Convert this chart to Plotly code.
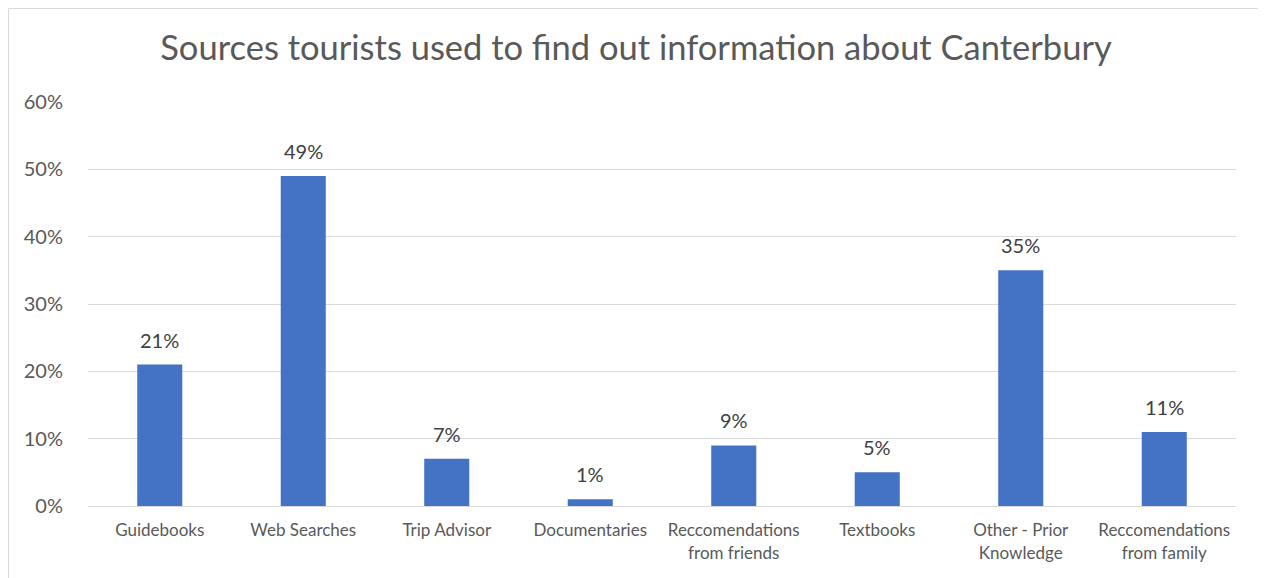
import plotly.graph_objects as go

categories = ["Guidebooks", "Web Searches", "Trip Advisor", "Documentaries",
              "Reccomendations<br>from friends", "Textbooks",
              "Other - Prior<br>Knowledge", "Reccomendations<br>from family"]
values = [0.21, 0.49, 0.07, 0.01, 0.09, 0.05, 0.35, 0.11]
labels = ["21%", "49%", "7%", "1%", "9%", "5%", "35%", "11%"]
y_ticks = [0, 0.1, 0.2, 0.3, 0.4, 0.5, 0.6]

FONT = "Lato"
OFF = 8  # page body margin
W, H = 1258, 570
L, T = 88 - OFF, 102 - OFF
pw, ph = 1148, 404
R = W - L - pw
B = H - T - ph

fig = go.Figure(go.Bar(x=categories, y=values, marker_color="#4472c4",
                       marker_line_width=0, hoverinfo="skip"))

for c, v, t in zip(categories, values, labels):
    fig.add_annotation(x=c, y=v, text=t, showarrow=False, yshift=25,
                       font=dict(family=FONT, size=20, color="#404040"))

fig.add_shape(type="rect", xref="paper", yref="paper",
              x0=(0.5 - L) / pw, x1=(1263 - OFF - L) / pw,
              y0=-(B + 20) / ph, y1=1 + (T - 0.5) / ph,
              line=dict(color="#d9d9d9", width=1), layer="below")

fig.update_layout(
    width=W, height=H,
    margin=dict(l=L, r=R, t=T, b=B, autoexpand=False),
    paper_bgcolor="white", plot_bgcolor="white",
    bargap=0.686, showlegend=False,
    title=dict(text="Sources tourists used to find out information about Canterbury",
               x=(636 - OFF) / W, xref="container", xanchor="center",
               y=1 - (48 - OFF) / H, yanchor="middle",
               font=dict(family=FONT, size=34.5, color="#595959")),
    xaxis=dict(showgrid=False, showline=True, linecolor="#d9d9d9", linewidth=1,
               ticks="outside", ticklen=9, tickcolor="rgba(0,0,0,0)",
               tickfont=dict(family=FONT, size=17, color="#595959")),
    yaxis=dict(range=[0, 0.6], tickvals=y_ticks, tickformat=".0%",
               showgrid=True, gridcolor="#d9d9d9", gridwidth=1,
               zeroline=False, showline=False, ticks="outside", ticklen=20,
               tickcolor="rgba(0,0,0,0)",
               tickfont=dict(family=FONT, size=20, color="#595959")),
)

fig.write_html("out.html")
